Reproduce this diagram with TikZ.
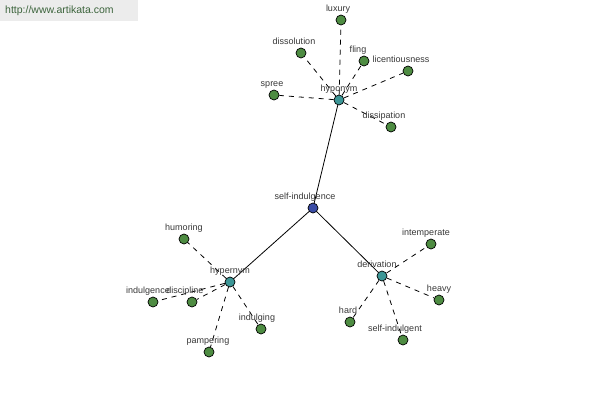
\documentclass[tikz,border=0pt]{standalone}
\usepackage{fontspec}
\setmainfont{Liberation Sans}
\usepackage{xcolor}
\usepackage{tikz}
\usetikzlibrary{backgrounds}

\definecolor{leafgreen}{RGB}{78,140,66}
\definecolor{relteal}{RGB}{60,150,150}
\definecolor{rootblue}{RGB}{58,76,165}
\definecolor{labelgray}{RGB}{55,55,55}
\definecolor{markgray}{RGB}{236,236,236}
\definecolor{markgreen}{RGB}{60,100,60}

\begin{document}
\begin{tikzpicture}[
  x=1pt, y=-1pt,
  word/.style={circle, draw, line width=0.7pt, fill=leafgreen, minimum size=10pt, inner sep=0pt},
  relation/.style={word, fill=relteal},
  root/.style={word, fill=rootblue},
  lbl/.style={font=\fontsize{9}{10}\selectfont, text=labelgray, inner sep=1pt, text height=6pt, text depth=2pt},
  link/.style={line width=0.8pt},
  dashlink/.style={line width=0.8pt, dash pattern=on 5pt off 5pt}
]
\useasboundingbox (0,0) rectangle (600,400);

% watermark
\node[fill=markgray, minimum width=138pt, minimum height=21pt, anchor=north west, inner sep=0pt] (mark) at (0,0) {};
\node[font=\fontsize{10.5}{12}\selectfont, text=markgreen, anchor=west, inner sep=0pt] (url) at (5,10.5) {http://www.artikata.com};

% centre and relations
\node[root, label={[lbl,xshift=-8pt]above:self-indulgence}] (si) at (313,208) {};
\node[relation, label={[lbl]above:hyponym}] (hypo) at (339,100) {};
\node[relation, label={[lbl]above:hypernym}] (hyper) at (230,282) {};
\node[relation, label={[lbl,xshift=-5pt]above:derivation}] (deriv) at (382,276) {};

% hyponyms
\node[word, label={[lbl,xshift=-3pt]above:luxury}] (luxury) at (341,20) {};
\node[word, label={[lbl,xshift=-7pt]above:dissolution}] (dissolution) at (301,53) {};
\node[word, label={[lbl,xshift=-6pt]above:fling}] (fling) at (364,61) {};
\node[word, label={[lbl,xshift=-7pt]above:licentiousness}] (licentiousness) at (408,71) {};
\node[word, label={[lbl,xshift=-2pt]above:spree}] (spree) at (274,95) {};
\node[word, label={[lbl,xshift=-7pt]above:dissipation}] (dissipation) at (391,127) {};

% hypernyms
\node[word, label={[lbl]above:humoring}] (humoring) at (184,239) {};
\node[word, label={[lbl,xshift=-5pt]above:indulgence}] (indulgence) at (153,302) {};
\node[word, label={[lbl,xshift=-7pt]above:discipline}] (discipline) at (192,302) {};
\node[word, label={[lbl,xshift=-4pt]above:indulging}] (indulging) at (261,329) {};
\node[word, label={[lbl,xshift=-1pt]above:pampering}] (pampering) at (209,352) {};

% derivations
\node[word, label={[lbl,xshift=-5pt]above:intemperate}] (intemperate) at (431,244) {};
\node[word, label={[lbl]above:heavy}] (heavy) at (439,300) {};
\node[word, label={[lbl,xshift=-2pt]above:hard}] (hard) at (350,322) {};
\node[word, label={[lbl,xshift=-8pt]above:self-indulgent}] (selfindulgent) at (403,340) {};

\begin{scope}[on background layer]
\draw[link] (si) -- (hypo);
\draw[link] (si) -- (hyper);
\draw[link] (si) -- (deriv);

\foreach \w in {luxury,dissolution,fling,licentiousness,spree,dissipation}
  \draw[dashlink] (hypo) -- (\w);
\foreach \w in {humoring,indulgence,discipline,indulging,pampering}
  \draw[dashlink] (hyper) -- (\w);
\foreach \w in {intemperate,heavy,hard,selfindulgent}
  \draw[dashlink] (deriv) -- (\w);
\end{scope}
\end{tikzpicture}
\end{document}
